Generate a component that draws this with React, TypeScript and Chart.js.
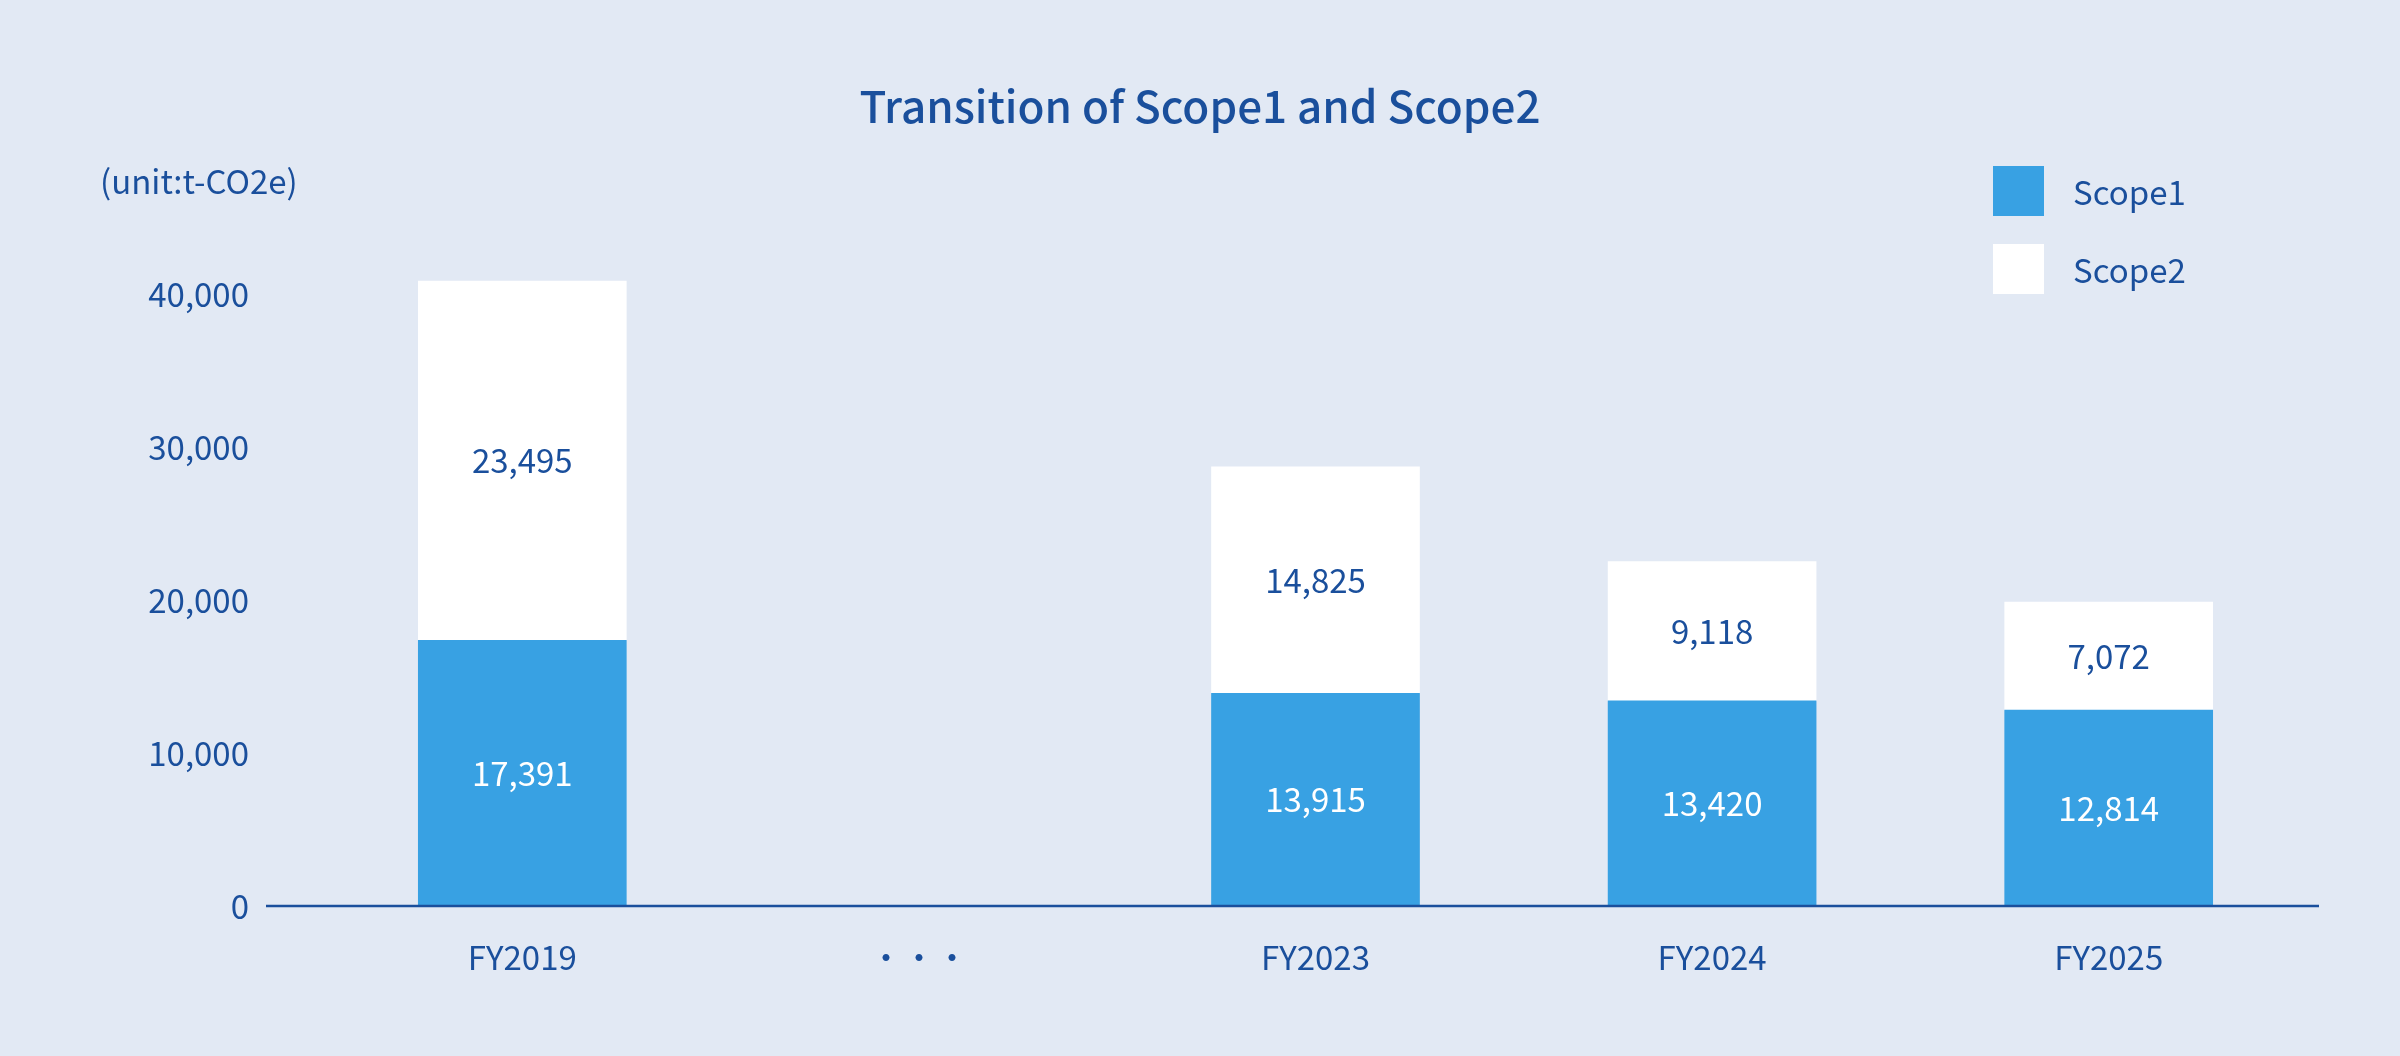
import { useEffect, useRef } from "react"
import { Chart, registerables } from "chart.js"

Chart.register(...registerables)

const years = ["FY2019", "・・・", "FY2023", "FY2024", "FY2025"]
const scope1 = [17391, null, 13915, 13420, 12814]
const scope2 = [23495, null, 14825, 9118, 7072]
const seriesNames = ["Scope1", "Scope2"]
const yTicks = [0, 10000, 20000, 30000, 40000]

const NAVY = "#1a4f9c"
const BLUE = "#38a1e3"
const WHITE = "#ffffff"
const BG = "#e2e9f4"
const FONT = '"Noto Sans CJK JP", "Noto Sans", sans-serif'
const seriesColors = [BLUE, WHITE]

// numbers written in the middle of each stacked segment
const valueLabels = {
  id: "valueLabels",
  afterDatasetsDraw(chart: any) {
    const { ctx } = chart
    ctx.save()
    ctx.font = `33px ${FONT}`
    ctx.textAlign = "center"
    ctx.textBaseline = "middle"
    chart.data.datasets.forEach((ds: any, i: number) => {
      const meta = chart.getDatasetMeta(i)
      meta.data.forEach((bar: any, j: number) => {
        const v = ds.data[j]
        if (v == null) return
        const { x, y, base } = bar.getProps(["x", "y", "base"], true)
        ctx.fillStyle = i === 0 ? WHITE : NAVY
        ctx.fillText(v.toLocaleString("en-US"), x, (y + base) / 2)
      })
    })
    ctx.restore()
  },
}

// the zero line runs a bit wider than the plot area
const baseline = {
  id: "baseline",
  afterDatasetsDraw(chart: any) {
    const { ctx, chartArea, scales } = chart
    const y0 = scales.y.getPixelForValue(0)
    ctx.save()
    ctx.strokeStyle = NAVY
    ctx.lineWidth = 2.5
    ctx.beginPath()
    ctx.moveTo(chartArea.left - 58, y0)
    ctx.lineTo(chartArea.right + 12, y0)
    ctx.stroke()
    ctx.restore()
  },
}

export default function App() {
  const canvasRef = useRef<HTMLCanvasElement>(null)
  const chartRef = useRef<Chart | null>(null)

  useEffect(() => {
    if (!canvasRef.current) return
    if (chartRef.current) chartRef.current.destroy()

    chartRef.current = new Chart(canvasRef.current, {
      type: "bar",
      data: {
        labels: years,
        datasets: [
          { label: seriesNames[0], data: scope1, backgroundColor: seriesColors[0], barThickness: 208 },
          { label: seriesNames[1], data: scope2, backgroundColor: seriesColors[1], barThickness: 208 },
        ],
      },
      options: {
        responsive: true,
        maintainAspectRatio: false,
        animation: false,
        events: [],
        layout: { padding: { left: 93, right: 93, top: 0, bottom: 0 } },
        plugins: {
          legend: { display: false },
          tooltip: { enabled: false },
          title: {
            display: true,
            text: "Transition of Scope1 and Scope2",
            color: NAVY,
            font: { family: FONT, size: 44, weight: 500 },
            padding: { top: 80, bottom: 85.5 },
          },
        },
        scales: {
          x: {
            stacked: true,
            grid: { display: false, drawTicks: false },
            border: { display: false },
            ticks: { color: NAVY, font: { family: FONT, size: 33 }, padding: 32 },
            afterFit: (s: any) => {
              s.height = 150
            },
          },
          y: {
            stacked: true,
            min: 0,
            max: 45000,
            grid: { display: false, drawTicks: false },
            border: { display: false },
            afterBuildTicks: (s: any) => {
              s.ticks = yTicks.map((value) => ({ value }))
            },
            ticks: {
              color: NAVY,
              font: { family: FONT, size: 33 },
              padding: 75,
              callback: (v: any) => Number(v).toLocaleString("en-US"),
            },
            afterFit: (s: any) => {
              s.width = 231
            },
          },
        },
      },
      plugins: [baseline, valueLabels],
    })

    return () => {
      if (chartRef.current) chartRef.current.destroy()
    }
  }, [])

  return (
    <div
      style={{
        position: "fixed",
        left: 0,
        top: 0,
        width: 2400,
        height: 1056,
        background: BG,
        fontFamily: FONT,
        color: NAVY,
      }}
    >
      <canvas ref={canvasRef} />
      <div style={{ position: "absolute", left: 100, top: 159, fontSize: 33, lineHeight: "43px" }}>
        (unit:t-CO2e)
      </div>
      <div style={{ position: "absolute", left: 1993, top: 166 }}>
        {seriesNames.map((name, i) => (
          <div key={name} style={{ display: "flex", alignItems: "center", height: 50, marginBottom: 28 }}>
            <span style={{ width: 51, height: 50, background: seriesColors[i], display: "inline-block" }} />
            <span style={{ marginLeft: 29, fontSize: 33, lineHeight: "48px" }}>{name}</span>
          </div>
        ))}
      </div>
    </div>
  )
}
